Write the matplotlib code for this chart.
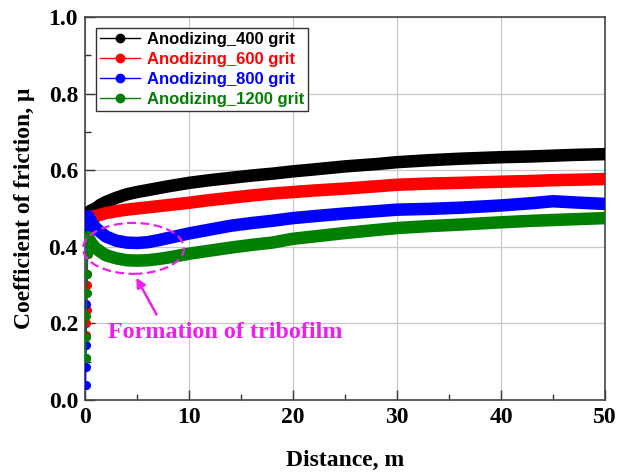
import matplotlib
matplotlib.use("Agg")
import matplotlib.pyplot as plt
from matplotlib.patches import Ellipse
from matplotlib.lines import Line2D

# Sliding distance (m) and coefficient of friction for each surface finish
dist = [0.3, 0.6, 1, 1.5, 2, 3, 4, 5, 6, 7, 8, 10, 12, 14, 16, 18, 20, 22,
        25, 28, 30, 33, 36, 40, 43, 45, 47, 50]
cof_400 = [0.490, 0.495, 0.500, 0.510, 0.517, 0.528, 0.537, 0.543, 0.548, 0.553,
           0.558, 0.567, 0.574, 0.580, 0.586, 0.591, 0.597, 0.602, 0.610, 0.616,
           0.621, 0.626, 0.630, 0.634, 0.636, 0.638, 0.640, 0.642]
cof_600 = [0.480, 0.478, 0.480, 0.484, 0.488, 0.493, 0.497, 0.500, 0.503, 0.506,
           0.509, 0.515, 0.522, 0.528, 0.534, 0.539, 0.543, 0.547, 0.552, 0.558,
           0.562, 0.565, 0.567, 0.570, 0.572, 0.574, 0.575, 0.577]
cof_800 = [0.480, 0.465, 0.450, 0.438, 0.427, 0.416, 0.411, 0.410, 0.412, 0.417,
           0.423, 0.435, 0.445, 0.455, 0.462, 0.468, 0.475, 0.480, 0.487, 0.493,
           0.497, 0.499, 0.502, 0.508, 0.514, 0.519, 0.516, 0.512]
cof_1200 = [0.425, 0.410, 0.397, 0.387, 0.378, 0.370, 0.365, 0.364, 0.365, 0.368,
            0.372, 0.382, 0.390, 0.398, 0.405, 0.411, 0.421, 0.427, 0.436, 0.444,
            0.449, 0.454, 0.458, 0.464, 0.468, 0.470, 0.472, 0.475]

# Run-in readings at the very start of sliding
runin_x_600 = [0.10, 0.13, 0.16, 0.20, 0.25]
runin_y_600 = [0.170, 0.200, 0.235, 0.300, 0.380]
runin_x_800 = [0.05, 0.07, 0.09, 0.11, 0.14, 0.17, 0.22]
runin_y_800 = [0.040, 0.087, 0.110, 0.143, 0.250, 0.330, 0.450]
runin_x_1200 = [0.06, 0.09, 0.12, 0.15, 0.19, 0.24]
runin_y_1200 = [0.110, 0.165, 0.220, 0.280, 0.330, 0.380]

labels = ["Anodizing_400 grit", "Anodizing_600 grit",
          "Anodizing_800 grit", "Anodizing_1200 grit"]
colors = ["#000000", "#ff0000", "#0000ff", "#008000"]

fig = plt.figure(figsize=(6.28, 4.73), dpi=100)
ax = fig.add_axes([0.1354, 0.1543, 0.828, 0.8097])

series = [cof_400, cof_600, cof_800, cof_1200]
runins = [([], []), (runin_x_600, runin_y_600),
          (runin_x_800, runin_y_800), (runin_x_1200, runin_y_1200)]

for y, (rx, ry), c in zip(series, runins, colors):
    if rx:
        ax.plot(rx + [dist[0]], ry + [y[0]], '-', color=c, lw=1.0, zorder=3)
        ax.plot(rx, ry, 'o', color=c, ms=5.5, mec=c, zorder=3)
    ax.plot(dist, y, '-', color=c, lw=9, solid_capstyle='round', zorder=3)

ax.set_xlim(0, 50)
ax.set_ylim(0, 1.0)
ax.set_xticks([0, 10, 20, 30, 40, 50])
ax.set_xticks([5, 15, 25, 35, 45], minor=True)
ax.set_yticks([0.0, 0.2, 0.4, 0.6, 0.8, 1.0])
ax.set_yticks([0.1, 0.3, 0.5, 0.7, 0.9], minor=True)
ax.set_yticklabels(["0.0", "0.2", "0.4", "0.6", "0.8", "1.0"])
ax.grid(True, which='major', color='#c8c8c8', lw=0.9)
ax.set_axisbelow(True)

serif = "Liberation Serif"
ax.tick_params(which='both', direction='in', top=False, right=False,
               color='#333333')
ax.tick_params(which='major', length=7, width=1, pad=5)
ax.tick_params(which='minor', length=4, width=1)
for lab in ax.get_xticklabels() + ax.get_yticklabels():
    lab.set_fontfamily(serif)
    lab.set_fontweight('bold')
    lab.set_fontsize(17)
for sp in ax.spines.values():
    sp.set_color('#444444')
    sp.set_linewidth(1.2)

ax.set_xlabel("Distance, m", fontfamily=serif, fontweight='bold',
              fontsize=17, labelpad=16)
ax.set_ylabel("Coefficient of friction, \u03bc", fontfamily=serif,
              fontweight='bold', fontsize=17, labelpad=10)

# Tribofilm formation annotation
magenta = "#ee1fee"
ax.add_patch(Ellipse((4.66, 0.396), 9.7, 0.133, fill=False, ec=magenta,
                     ls=(0, (4, 2)), lw=1.6, zorder=4, clip_on=False))
ax.annotate("", xy=(4.8, 0.326), xytext=(7.0, 0.217),
            arrowprops=dict(arrowstyle='-|>', color=magenta, lw=1.8,
                            mutation_scale=14), zorder=4)
ax.text(2.2, 0.175, "Formation of tribofilm", color=magenta,
        fontfamily=serif, fontweight='bold', fontsize=17.4, va='center',
        ha='left', zorder=4)

handles = [Line2D([], [], color=c, lw=1, marker='o', ms=6, mfc=c, mec=c)
           for c in colors]
leg = ax.legend(handles, labels, loc='upper left',
                bbox_to_anchor=(0.021, 0.971), frameon=True, fancybox=False,
                edgecolor='#333333', framealpha=1, borderpad=0.25,
                borderaxespad=0, handlelength=2.4, handletextpad=0.4,
                labelspacing=0.3,
                prop={'family': 'Liberation Sans', 'weight': 'bold',
                      'size': 12})
leg.get_frame().set_linewidth(1.0)
for txt, c in zip(leg.get_texts(), colors):
    txt.set_color(c)

fig.savefig("out.png", dpi=100)
